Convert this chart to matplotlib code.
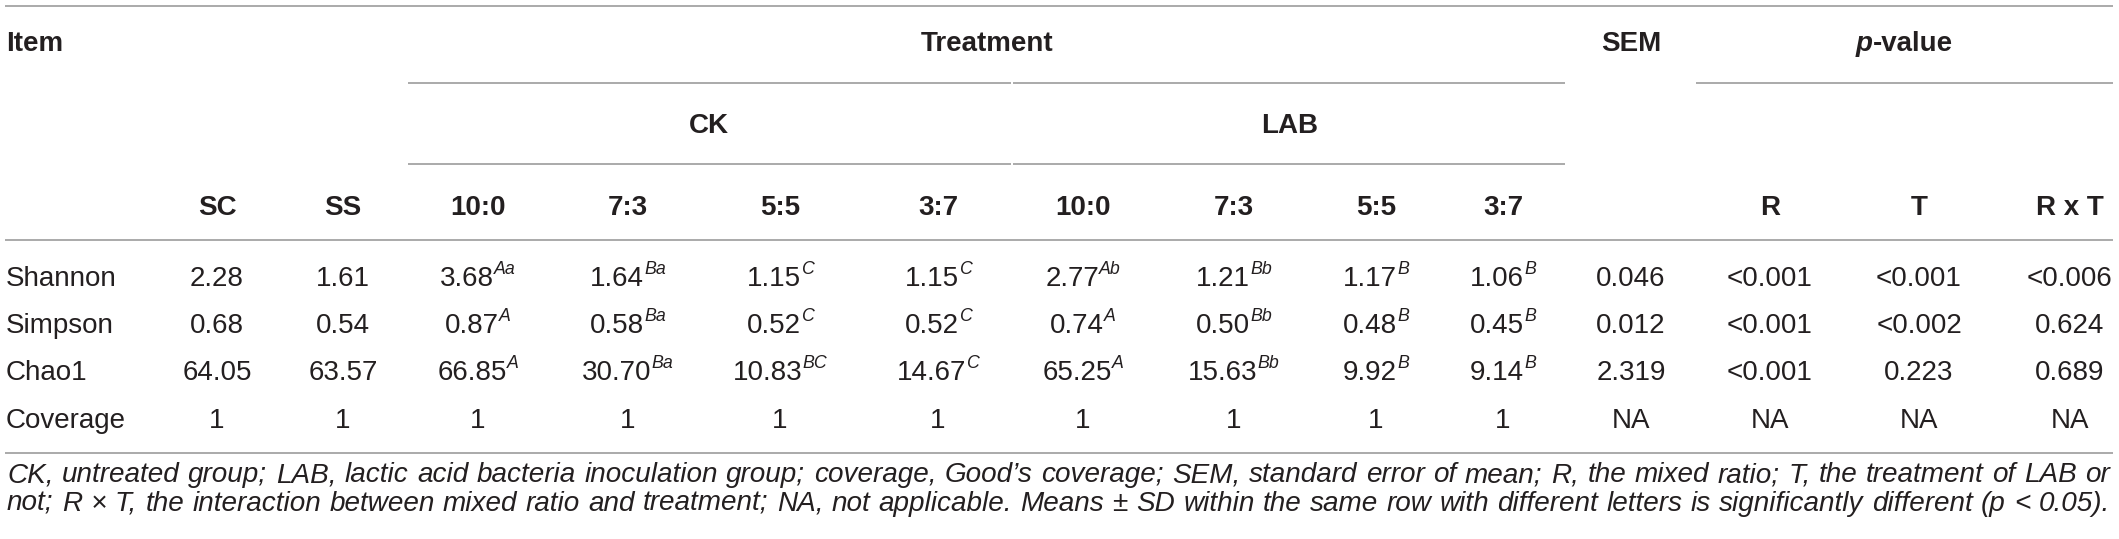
import matplotlib
matplotlib.use('Agg')
import matplotlib.pyplot as plt
from matplotlib.font_manager import FontProperties

# ---------------- data ----------------
row_items = ['Shannon', 'Simpson', 'Chao1', 'Coverage']
col_labels = ['SC', 'SS', '10:0', '7:3', '5:5', '3:7', '10:0', '7:3', '5:5', '3:7', '', 'R', 'T', 'R x T']
group_labels = ['CK', 'LAB']

shannon = ['2.28', '1.61', '3.68', '1.64', '1.15', '1.15', '2.77', '1.21', '1.17', '1.06', '0.046', '<0.001', '<0.001', '<0.006']
shannon_sup = ['', '', 'Aa', 'Ba', 'C', 'C', 'Ab', 'Bb', 'B', 'B', '', '', '', '']
simpson = ['0.68', '0.54', '0.87', '0.58', '0.52', '0.52', '0.74', '0.50', '0.48', '0.45', '0.012', '<0.001', '<0.002', '0.624']
simpson_sup = ['', '', 'A', 'Ba', 'C', 'C', 'A', 'Bb', 'B', 'B', '', '', '', '']
chao1 = ['64.05', '63.57', '66.85', '30.70', '10.83', '14.67', '65.25', '15.63', '9.92', '9.14', '2.319', '<0.001', '0.223', '0.689']
chao1_sup = ['', '', 'A', 'Ba', 'BC', 'C', 'A', 'Bb', 'B', 'B', '', '', '', '']
coverage = ['1', '1', '1', '1', '1', '1', '1', '1', '1', '1', 'NA', 'NA', 'NA', 'NA']
coverage_sup = [''] * 14

footnote_1 = ("CK, untreated group; LAB, lactic acid bacteria inoculation group; coverage, Good\u2019s coverage; "
              "SEM, standard error of mean; R, the mixed ratio; T, the treatment of LAB or")
footnote_2 = ("not; R \u00d7 T, the interaction between mixed ratio and treatment; NA, not applicable. "
              "Means \u00b1 SD within the same row with different letters is significantly different (p < 0.05).")

# ---------------- layout ----------------
W, H = 2119, 539
fig = plt.figure(figsize=(W / 100, H / 100), dpi=100)
ax = fig.add_axes([0, 0, 1, 1])
ax.set_xlim(0, W)
ax.set_ylim(H, 0)
ax.axis('off')
renderer = fig.canvas.get_renderer()

FAM = ['Liberation Sans', 'DejaVu Sans']
TXT = '#231f20'
RULE = '#9c9c9c'
BASE = 20
fp_reg = FontProperties(family=FAM, size=BASE)
fp_bold = FontProperties(family=FAM, size=BASE, weight='bold')
fp_bold_it = FontProperties(family=FAM, size=BASE, weight='bold', style='italic')
fp_sup = FontProperties(family=FAM, size=BASE * 0.64, style='italic')

col_x = [217, 343, 478, 628, 780, 938, 1083, 1234, 1376, 1503, 1631, 1770, 1919, 2070]


def text_w(s, fp):
    t = ax.text(0, 0, s, fontproperties=fp)
    w = t.get_window_extent(renderer).width
    t.remove()
    return w


def runs(x, y, parts, ha='center'):
    widths = [text_w(s, fp) for s, fp, dy in parts]
    total = sum(widths)
    if ha == 'center':
        cur = x - total / 2
    elif ha == 'right':
        cur = x - total
    else:
        cur = x
    for (s, fp, dy), w in zip(parts, widths):
        ax.text(cur, y - dy, s, fontproperties=fp, va='baseline', ha='left', color=TXT)
        cur += w


def hline(x0, x1, y):
    ax.plot([x0, x1], [y, y], color=RULE, lw=1.2, solid_capstyle='butt')


# rules
hline(5, 2113, 6)
hline(408, 1011, 83)
hline(1013, 1565, 83)
hline(1696, 2113, 83)
hline(408, 1011, 164)
hline(1013, 1565, 164)
hline(5, 2113, 240)
hline(5, 2113, 453)

# header rows
runs(6, 51, [('Item', fp_bold, 0)], ha='left')
runs(987, 51, [('Treatment', fp_bold, 0)])
runs(1631, 51, [('SEM', fp_bold, 0)])
runs(1904, 51, [('p', fp_bold_it, 0), ('-value', fp_bold, 0)])
runs(709, 133, [(group_labels[0], fp_bold, 0)])
runs(1290, 133, [(group_labels[1], fp_bold, 0)])
for x, lab in zip(col_x, col_labels):
    if lab:
        runs(x, 215, [(lab, fp_bold, 0)])

# body
rows = [(shannon, shannon_sup), (simpson, simpson_sup), (chao1, chao1_sup), (coverage, coverage_sup)]
row_y = [286, 333, 380, 428]
for name, (vals, sups), y in zip(row_items, rows, row_y):
    runs(6, y, [(name, fp_reg, 0)], ha='left')
    for x, v, s in zip(col_x, vals, sups):
        parts = [(v, fp_reg, 0)]
        if s:
            parts.append((s, fp_sup, 12))
        runs(x, y, parts)

# footnote: choose size so both lines fit naturally, then justify
X0, X1 = 7, 2110
fp_probe = FontProperties(family=FAM, size=17, style='italic')
scale = min((X1 - X0) / text_w(footnote_1, fp_probe), (X1 - X0) / text_w(footnote_2, fp_probe))
fp_foot = FontProperties(family=FAM, size=17 * scale * 0.995, style='italic')


def justify(line, y, x0=X0, x1=X1):
    words = line.split(' ')
    ws = [text_w(w, fp_foot) for w in words]
    gap = (x1 - x0 - sum(ws)) / (len(words) - 1)
    cur = x0
    for w, ww in zip(words, ws):
        ax.text(cur, y, w, fontproperties=fp_foot, va='baseline', ha='left', color=TXT)
        cur += ww + gap


justify(footnote_1, 482)
justify(footnote_2, 511)

fig.savefig('out.png', dpi=100)
